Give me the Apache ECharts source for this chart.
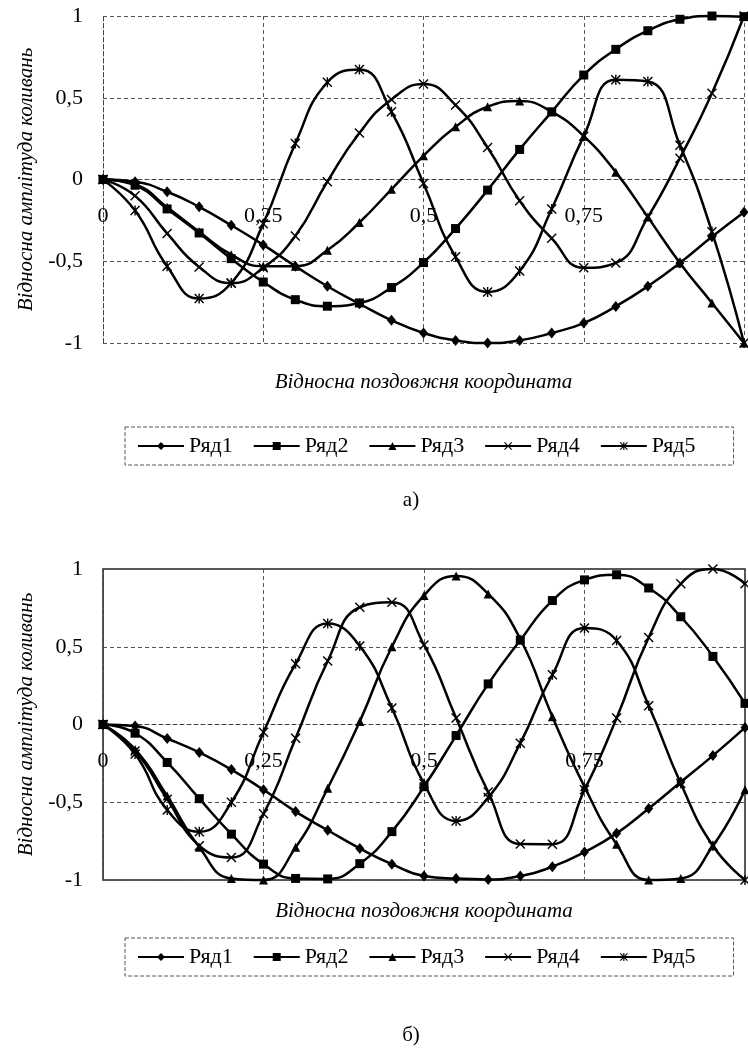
<!DOCTYPE html>
<html>
<head>
<meta charset="utf-8">
<script src="https://cdn.jsdelivr.net/npm/echarts@6/dist/echarts.min.js"></script>
<style>
  html, body { margin: 0; padding: 0; background: #fff; }
  #chart { width: 748px; height: 1056px; }
</style>
</head>
<body>
<div id="chart"></div>
<script>
// relative coordinate, step 0.05
var xs = [0, 0.05, 0.1, 0.15, 0.2, 0.25, 0.3, 0.35, 0.4, 0.45, 0.5,
  0.55, 0.6, 0.65, 0.7, 0.75, 0.8, 0.85, 0.9, 0.95, 1]
var seriesNames = ['Ряд1', 'Ряд2', 'Ряд3', 'Ряд4', 'Ряд5']
var yTicks = [-1, -0.5, 0, 0.5, 1]

// chart а)
var topRow1 = [0, -0.014, -0.075, -0.167, -0.28, -0.40, -0.53, -0.653, -0.76, -0.861, -0.939,
  -0.984, -1.0, -0.984, -0.939, -0.878, -0.776, -0.653, -0.51, -0.35, -0.2]
var topRow2 = [0, -0.035, -0.18, -0.327, -0.484, -0.627, -0.735, -0.775, -0.755, -0.661, -0.508,
  -0.30, -0.065, 0.184, 0.414, 0.639, 0.796, 0.91, 0.98, 1.0, 0.996]
var topRow3 = [0, -0.03, -0.17, -0.32, -0.46, -0.53, -0.53, -0.433, -0.263, -0.06, 0.145,
  0.322, 0.445, 0.48, 0.414, 0.265, 0.045, -0.23, -0.51, -0.755, -1.0]
var topRow4 = [0, -0.1, -0.33, -0.535, -0.634, -0.54, -0.345, -0.013, 0.285, 0.49, 0.584,
  0.455, 0.196, -0.13, -0.36, -0.54, -0.51, -0.23, 0.13, 0.527, 1.0]
var topRow5 = [0, -0.19, -0.53, -0.728, -0.633, -0.27, 0.22, 0.595, 0.673, 0.414, -0.024,
  -0.473, -0.688, -0.56, -0.18, 0.265, 0.61, 0.6, 0.21, -0.32, -1.0]

// chart б)
var botRow1 = [0, -0.01, -0.09, -0.18, -0.29, -0.42, -0.56, -0.68, -0.797, -0.898, -0.974,
  -0.991, -0.996, -0.974, -0.914, -0.82, -0.70, -0.54, -0.37, -0.20, -0.02]
var botRow2 = [0, -0.056, -0.244, -0.477, -0.705, -0.898, -0.99, -0.993, -0.895, -0.689, -0.40,
  -0.071, 0.261, 0.542, 0.797, 0.93, 0.963, 0.878, 0.693, 0.438, 0.136]
var botRow3 = [0, -0.16, -0.46, -0.79, -0.99, -1.0, -0.79, -0.41, 0.02, 0.50, 0.83,
  0.955, 0.84, 0.55, 0.05, -0.40, -0.77, -1.0, -0.99, -0.78, -0.42]
var botRow4 = [0, -0.17, -0.48, -0.78, -0.855, -0.574, -0.089, 0.408, 0.754, 0.786, 0.512,
  0.041, -0.434, -0.769, -0.77, -0.42, 0.041, 0.56, 0.905, 1.0, 0.905]
var botRow5 = [0, -0.19, -0.55, -0.69, -0.5, -0.05, 0.39, 0.65, 0.505, 0.106, -0.38,
  -0.62, -0.47, -0.12, 0.32, 0.62, 0.54, 0.12, -0.38, -0.78, -1.0]

var FONT = '"Liberation Serif", "Times New Roman", serif'

// excel-like markers
var X_PATH = 'path://M0,1L1,0L5,4L9,0L10,1L6,5L10,9L9,10L5,6L1,10L0,9L4,5Z'
var STAR_PATH = 'path://M0,1L1,0L5,4L9,0L10,1L6,5L10,9L9,10L5,6L1,10L0,9L4,5Z M4.3,0L5.7,0L5.7,10L4.3,10Z'
var symbols = [
  { symbol: 'diamond', size: [9, 11] },
  { symbol: 'rect', size: 9 },
  { symbol: 'triangle', size: 9 },
  { symbol: X_PATH, size: 10 },
  { symbol: STAR_PATH, size: 10 }
]

function fmt(v) {
  return String(v).replace('.', ',')
}

function pairs(arr) {
  return arr.map(function(v, i) { return [xs[i], v] })
}

function makeSeries(rows, idx) {
  return rows.map(function(row, k) {
    return {
      name: seriesNames[k],
      type: 'line',
      xAxisIndex: idx,
      yAxisIndex: idx,
      data: pairs(row),
      smooth: 0.5,
      clip: false,
      symbol: symbols[k].symbol,
      symbolSize: symbols[k].size,
      itemStyle: { color: '#000' },
      lineStyle: { color: '#000', width: 2.5 },
      animation: false
    }
  })
}

// the x axis sits on y = 0, so shift it up by half the plot height
function makeX(idx, plotHeight, gap) {
  return {
    type: 'value',
    gridIndex: idx,
    min: 0,
    max: 1,
    interval: 0.25,
    offset: -plotHeight / 2,
    name: 'Відносна поздовжня координата',
    nameLocation: 'middle',
    nameGap: gap,
    nameTextStyle: { fontFamily: FONT, fontStyle: 'italic', fontSize: 21, color: '#000' },
    axisLine: { onZero: false, lineStyle: { color: '#444', width: 1, type: [4, 3] } },
    axisTick: { show: false },
    axisLabel: {
      margin: 26,
      fontFamily: FONT,
      fontSize: 22,
      color: '#000',
      showMaxLabel: false,
      formatter: function(v) { return v === 1 ? '' : fmt(v) }
    },
    splitLine: { show: true, lineStyle: { color: '#555', width: 1, type: [4, 3] } }
  }
}

function makeY(idx) {
  return {
    type: 'value',
    gridIndex: idx,
    min: yTicks[0],
    max: yTicks[yTicks.length - 1],
    interval: 0.5,
    name: 'Відносна амплітуда коливань',
    nameLocation: 'middle',
    nameRotate: 90,
    nameGap: 66,
    nameTextStyle: { fontFamily: FONT, fontStyle: 'italic', fontSize: 21, color: '#000' },
    axisLine: { show: true, lineStyle: { color: '#444', width: 1, type: [4, 3] } },
    axisTick: { show: false },
    axisLabel: {
      margin: 20,
      fontFamily: FONT,
      fontSize: 22,
      color: '#000',
      formatter: fmt
    },
    splitLine: { show: true, lineStyle: { color: '#555', width: 1, type: [4, 3] } }
  }
}

function makeLegend(top) {
  return {
    top: top,
    left: 125,
    itemWidth: 46,
    itemHeight: 10,
    itemGap: 20,
    padding: [8, 38, 8, 12],
    borderColor: '#555',
    borderWidth: 1,
    borderType: 'dashed',
    data: seriesNames,
    textStyle: { fontFamily: FONT, fontSize: 22, color: '#000' }
  }
}

var chart = echarts.init(document.getElementById('chart'))
chart.setOption({
  backgroundColor: '#fff',
  animation: false,
  title: [
    { text: 'а)', left: 406, top: 485, textAlign: 'center',
      textStyle: { fontFamily: FONT, fontSize: 21, fontWeight: 'normal', color: '#000' } },
    { text: 'б)', left: 406, top: 1020, textAlign: 'center',
      textStyle: { fontFamily: FONT, fontSize: 21, fontWeight: 'normal', color: '#000' } }
  ],
  legend: [makeLegend(427), makeLegend(938)],
  grid: [
    { left: 103, top: 16, width: 641, height: 327 },
    { left: 103, top: 569, width: 642, height: 311, show: true, borderColor: '#222', borderWidth: 1.5 }
  ],
  xAxis: [makeX(0, 327, 192), makeX(1, 311, 176)],
  yAxis: [makeY(0), makeY(1)],
  series: makeSeries([topRow1, topRow2, topRow3, topRow4, topRow5], 0)
    .concat(makeSeries([botRow1, botRow2, botRow3, botRow4, botRow5], 1))
})
</script>
</body>
</html>
